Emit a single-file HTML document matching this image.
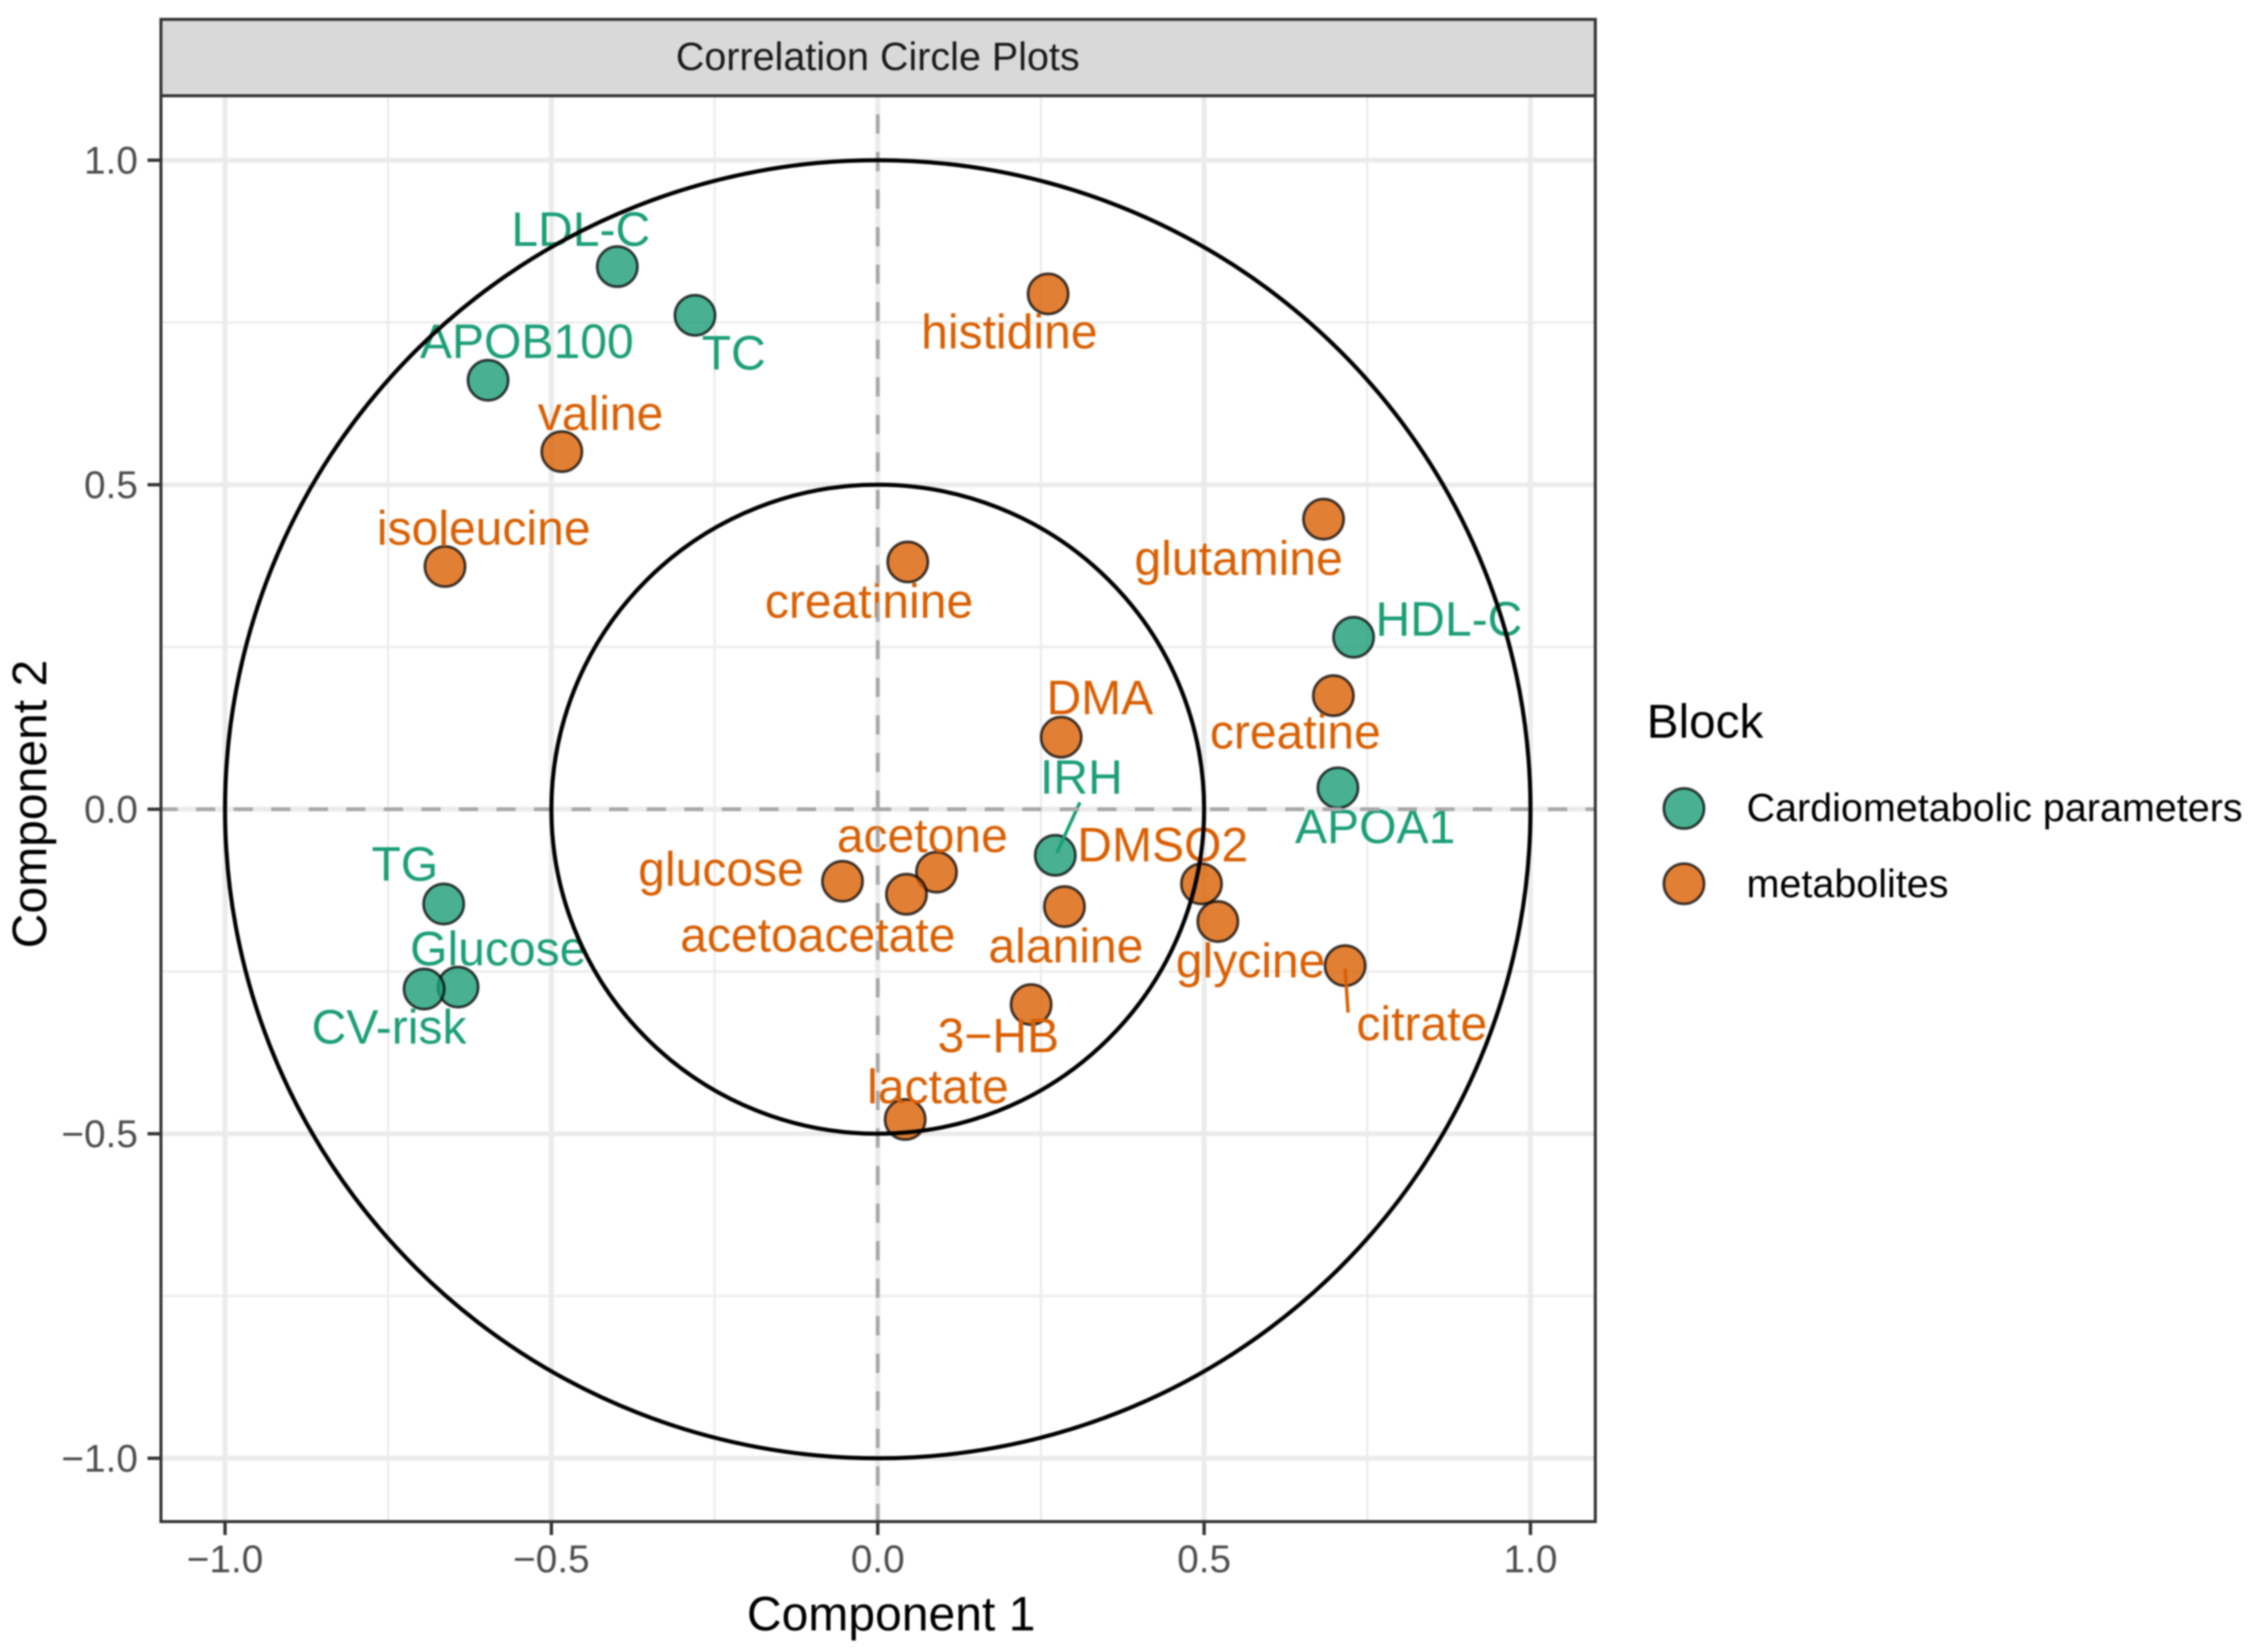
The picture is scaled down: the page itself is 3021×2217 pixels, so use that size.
<!DOCTYPE html>
<html>
<head>
<meta charset="utf-8">
<title>Correlation Circle Plots</title>
<style>
html,body{margin:0;padding:0;background:#fff;width:3021px;height:2217px;overflow:hidden}
svg{display:block;filter:blur(1.1px)}
text{font-family:"Liberation Sans",sans-serif}
</style>
</head>
<body>
<svg id="chart" xmlns="http://www.w3.org/2000/svg" width="3021" height="2217" viewBox="0 0 3021 2217">
  <rect x="0" y="0" width="3021" height="2217" fill="#fff"/>
  <rect x="216" y="26" width="1925" height="102.5" fill="#d9d9d9" stroke="#333" stroke-width="4"/>
  <text x="1178" y="94" font-size="53" fill="#1a1a1a" text-anchor="middle">Correlation Circle Plots</text>
  <g id="grid"></g>
  <g id="points"></g>
  <g id="labels"></g>
  <g id="refs"></g>
  <rect x="216" y="128.5" width="1925" height="1913.5" fill="none" stroke="#333" stroke-width="4"/>
  <g id="ticks"></g>
  <text x="1196" y="2188" font-size="64.5" fill="#000" text-anchor="middle">Component 1</text>
  <text transform="translate(62,1079) rotate(-90)" font-size="64.5" fill="#000" text-anchor="middle">Component 2</text>
  <g>
    <text x="2210" y="990" font-size="64" fill="#000">Block</text>
    <circle cx="2260" cy="1085" r="27" fill="#1b9e77" fill-opacity="0.8" stroke="#000" stroke-opacity="0.75" stroke-width="3.6"/>
    <text x="2344" y="1102" font-size="53" fill="#000">Cardiometabolic parameters</text>
    <circle cx="2260" cy="1186" r="27" fill="#d95f02" fill-opacity="0.8" stroke="#000" stroke-opacity="0.75" stroke-width="3.6"/>
    <text x="2344" y="1204" font-size="53" fill="#000">metabolites</text>
  </g>
</svg>
<script>
// Chart data
const variableNames = ["LDL-C","TC","APOB100","valine","isoleucine","histidine","glutamine","creatinine","HDL-C","creatine","DMA","APOA1","IRH","DMSO2","glycine","citrate","alanine","acetone","acetoacetate","glucose","3\u2212HB","lactate","TG","Glucose","CV-risk"];
const component1 = [-0.399,-0.280,-0.597,-0.484,-0.663,0.261,0.683,0.046,0.729,0.698,0.281,0.705,0.272,0.496,0.521,0.716,0.286,0.090,0.044,-0.054,0.235,0.042,-0.665,-0.643,-0.695];
const component2 = [0.836,0.761,0.661,0.551,0.374,0.794,0.447,0.381,0.265,0.175,0.111,0.033,-0.071,-0.115,-0.173,-0.241,-0.150,-0.097,-0.131,-0.111,-0.301,-0.478,-0.146,-0.274,-0.277];
const blocks = ["c","c","c","m","m","m","m","m","c","m","m","c","c","m","m","m","m","m","m","m","m","m","c","c","c"];
const xTickValues = [-1,-0.5,0,0.5,1];
const yTickValues = [-1,-0.5,0,0.5,1];
const tickLabels = ["\u22121.0","\u22120.5","0.0","0.5","1.0"];
const minorBreaks = [-0.75,-0.25,0.25,0.75];
const circleRadii = [1,0.5];

// Axis functions
function sx(v){ return 1178 + 876 * v; }
function sy(v){ return 1086 - 871 * v; }

// Repel-style label layout, relative to each point
const labelLayout = {
  "LDL-C":[-49,-28],"TC":[52,73],"APOB100":[52,-30],"valine":[52,-29],"isoleucine":[52,-29],
  "histidine":[-52,73],"glutamine":[-114,75],"creatinine":[-52,75],"HDL-C":[128,-2],"creatine":[-51,71],
  "DMA":[52,-31],"APOA1":[50,74],"IRH":[35,-83],"DMSO2":[-52,-30],"glycine":[44,75],"citrate":[103,100],
  "alanine":[2,75],"acetone":[-19,-27],"acetoacetate":[-119,77],"glucose":[-163,6],"3\u2212HB":[-44,64],
  "lactate":[44,-22],"TG":[-52,-31],"Glucose":[54,-29],"CV-risk":[-47,73]
};
const segmentLayout = {
  "IRH":[[2,-3],[33,-71]],
  "citrate":[[0,4],[4,63]],
  "isoleucine":[[-1,-27],[-1,-76]],
  "creatinine":[[9,28],[9,34]]
};
const blockColor = {c:"#1b9e77", m:"#d95f02"};
const PANEL = {l:216, r:2141, t:128.5, b:2042};

const NS = "http://www.w3.org/2000/svg";
function mk(tag, parentId, attrs, text){
  const el = document.createElementNS(NS, tag);
  for (const k in attrs) el.setAttribute(k, attrs[k]);
  if (text !== undefined) el.textContent = text;
  document.getElementById(parentId).appendChild(el);
  return el;
}

// Grid
minorBreaks.forEach(function(v){
  const a = mk("line","grid",{x1:sx(v),x2:sx(v),y1:PANEL.t,y2:PANEL.b,stroke:"#ececec","stroke-width":3});
  
  
  const b = mk("line","grid",{x1:PANEL.l,x2:PANEL.r,y1:sy(v),y2:sy(v),stroke:"#ececec","stroke-width":3});
  
  
});
xTickValues.forEach(function(v){
  const a = mk("line","grid",{x1:sx(v),x2:sx(v),y1:PANEL.t,y2:PANEL.b,stroke:"#ebebeb","stroke-width":6.5});
  
  
});
yTickValues.forEach(function(v){
  const b = mk("line","grid",{x1:PANEL.l,x2:PANEL.r,y1:sy(v),y2:sy(v),stroke:"#ebebeb","stroke-width":6.5});
  
  
});

// Points
variableNames.forEach(function(name,i){
  const c = mk("circle","points",{cx:sx(component1[i]),cy:sy(component2[i]),r:27,fill:blockColor[blocks[i]],"fill-opacity":0.8,stroke:"#000","stroke-opacity":0.75,"stroke-width":3.6});
  
  
});

// Labels and connector segments
variableNames.forEach(function(name,i){
  const px = sx(component1[i]), py = sy(component2[i]);
  const off = labelLayout[name];
  const t = mk("text","labels",{x:px+off[0],y:py+off[1],"font-size":64.5,"text-anchor":"middle",fill:blockColor[blocks[i]]},name);
  
  
  const seg = segmentLayout[name];
  if (seg){
    const s = mk("line","labels",{x1:px+seg[0][0],y1:py+seg[0][1],x2:px+seg[1][0],y2:py+seg[1][1],stroke:blockColor[blocks[i]],"stroke-width":4.5});
    
    
  }
});

// Reference lines and correlation circles
const h0 = mk("line","refs",{x1:PANEL.l,x2:PANEL.r,y1:sy(0),y2:sy(0),stroke:"#a8a8a8","stroke-width":5,"stroke-dasharray":"25.8 24.6","stroke-dashoffset":3.3});


const v0 = mk("line","refs",{x1:sx(0),x2:sx(0),y1:PANEL.t,y2:PANEL.b,stroke:"#a8a8a8","stroke-width":5,"stroke-dasharray":"25.8 24.6","stroke-dashoffset":25.4});


circleRadii.forEach(function(r){
  const e = mk("ellipse","refs",{cx:sx(0),cy:sy(0),rx:sx(r)-sx(0),ry:sy(0)-sy(r),fill:"none",stroke:"#000","stroke-width":5.5});
  
  
});

// Ticks and tick labels
xTickValues.forEach(function(v,i){
  const t = mk("line","ticks",{x1:sx(v),x2:sx(v),y1:PANEL.b,y2:PANEL.b+18,stroke:"#333","stroke-width":4.5});
  
  
  const l = mk("text","ticks",{x:sx(v),y:2110,"font-size":52,"text-anchor":"middle",fill:"#4d4d4d"},tickLabels[i]);
  
  
});
yTickValues.forEach(function(v,i){
  const t = mk("line","ticks",{x1:PANEL.l-18,x2:PANEL.l,y1:sy(v),y2:sy(v),stroke:"#333","stroke-width":4.5});
  
  
  const l = mk("text","ticks",{x:185,y:sy(v)+18,"font-size":52,"text-anchor":"end",fill:"#4d4d4d"},tickLabels[i]);
  
  
});
</script>
</body>
</html>
